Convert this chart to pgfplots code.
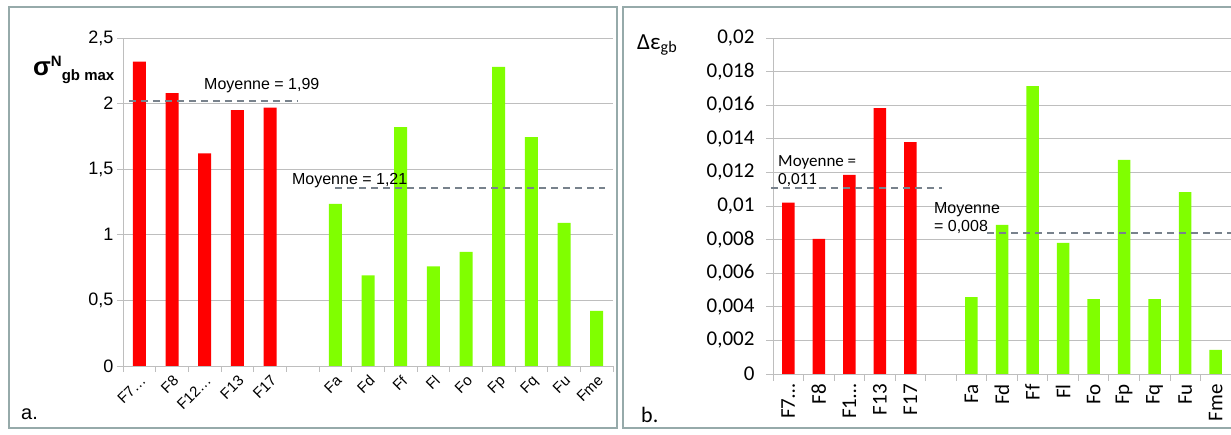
\documentclass[border=0pt]{standalone}
\usepackage{fontspec}
\setmainfont{Liberation Sans}
\newfontfamily\carlito{Carlito}
\usepackage{pgfplots}
\pgfplotsset{compat=1.18}
\definecolor{barred}{RGB}{255,0,0}
\definecolor{bargreen}{RGB}{128,255,0}
\definecolor{gridgray}{RGB}{190,190,190}
\definecolor{framegray}{RGB}{150,170,170}
\definecolor{meangray}{RGB}{120,130,140}
\begin{document}
\begin{tikzpicture}[x=1pt,y=1pt]
\useasboundingbox (0,0) rectangle (1231,435);
\fill[white] (0,0) rectangle (1231,435);
\draw[framegray, line width=1.2pt] (9,7) rectangle (617,428);
\draw[framegray, line width=1.2pt] (623,7) rectangle (1240,428);

% ---------------- left panel ----------------
\begin{axis}[at={(123pt,69pt)}, anchor=south west, scale only axis,
  width=490pt, height=328pt,
  xmin=-0.5, xmax=14.5, ymin=0, ymax=2.5,
  ytick={0,0.5,1,1.5,2,2.5},
  yticklabels={0,{0,5},1,{1,5},2,{2,5}},
  scaled y ticks=false,
  ymajorgrids, grid style={gridgray, line width=0.8pt},
  axis x line*=bottom, axis y line*=left,
  axis line style={gridgray,-, line width=0.8pt},
  tick align=outside, major tick length=6pt, minor tick length=6pt,
  tick style={gridgray, line width=0.8pt},
  xtick={0,...,14},
  xticklabels={F7…,F8,F12…,F13,F17,,Fa,Fd,Ff,Fl,Fo,Fp,Fq,Fu,Fme},
  major x tick style=transparent,
  minor xtick={-0.5,0.5,...,14.5},
  xticklabel style={rotate=45, anchor=north east, font=\fontsize{15}{16}\selectfont, inner sep=1.5pt},
  yticklabel style={font=\fontsize{18}{20}\selectfont},
  clip=false]
\addplot[ybar, bar width=13pt, fill=barred, draw=none] coordinates {(0,2.32) (1,2.08) (2,1.62) (3,1.95) (4,1.97)};
\addplot[ybar, bar width=13pt, fill=bargreen, draw=none] coordinates {(6,1.235) (7,0.69) (8,1.82) (9,0.76) (10,0.87) (11,2.28) (12,1.745) (13,1.09) (14,0.42)};
\addplot[meangray, line width=1.3pt, dash pattern=on 7pt off 5pt] coordinates {(-0.32,2.02) (4.83,2.02)};
\addplot[meangray, line width=1.3pt, dash pattern=on 7pt off 5pt] coordinates {(5.99,1.357) (14.25,1.357)};
\node[anchor=west, font=\fontsize{16}{18}\selectfont, inner sep=0pt] at (axis cs:1.98,2.134) {Moyenne = 1,99};
\node[anchor=west, font=\fontsize{16}{18}\selectfont, inner sep=0pt] at (axis cs:4.67,1.41) {Moyenne = 1,21};
\end{axis}
\node[anchor=west, inner sep=0pt] at (33,365) {{\fontsize{26}{26}\selectfont\bfseries σ}\raisebox{9pt}{\fontsize{15}{15}\selectfont\bfseries N}\raisebox{-5pt}{\fontsize{15}{15}\selectfont\bfseries gb max}};
\node[anchor=west, inner sep=0pt, font=\fontsize{20}{20}\selectfont] at (21,21) {a.};

% ---------------- right panel ----------------
\begin{axis}[at={(773pt,61pt)}, anchor=south west, scale only axis,
  width=458pt, height=336pt,
  xmin=-0.5, xmax=14.5, ymin=0, ymax=0.02,
  ytick={0,0.002,0.004,0.006,0.008,0.01,0.012,0.014,0.016,0.018,0.02},
  yticklabels={0,{0,002},{0,004},{0,006},{0,008},{0,01},{0,012},{0,014},{0,016},{0,018},{0,02}},
  scaled y ticks=false,
  ymajorgrids, grid style={gridgray, line width=0.8pt},
  axis x line*=bottom, axis y line*=left,
  axis line style={gridgray,-, line width=0.8pt},
  tick align=outside, major tick length=7pt, minor tick length=7pt,
  tick style={gridgray, line width=0.8pt},
  xtick={0,...,14},
  xticklabels={F7…,F8,F1…,F13,F17,,Fa,Fd,Ff,Fl,Fo,Fp,Fq,Fu,Fme},
  major x tick style=transparent,
  minor xtick={-0.5,0.5,...,14.5},
  xticklabel style={rotate=90, anchor=east, font=\carlito\fontsize{21}{22}\selectfont, inner sep=3pt},
  yticklabel style={font=\carlito\fontsize{21}{22}\selectfont, xshift=-8pt},
  clip=false]
\addplot[ybar, bar width=12.5pt, fill=barred, draw=none] coordinates {(0,0.0102) (1,0.00804) (2,0.01185) (3,0.01583) (4,0.0138)};
\addplot[ybar, bar width=12.5pt, fill=bargreen, draw=none] coordinates {(6,0.00458) (7,0.00887) (8,0.01714) (9,0.0078) (10,0.00446) (11,0.01274) (12,0.00446) (13,0.01083) (14,0.00143)};
\addplot[meangray, line width=1.3pt, dash pattern=on 7pt off 5pt] coordinates {(-0.566,0.01107) (5.035,0.01107)};
\addplot[meangray, line width=1.3pt, dash pattern=on 7pt off 5pt] coordinates {(6.51,0.0084) (14.5,0.0084)};
\node[anchor=west, font=\carlito\fontsize{17}{18}\selectfont, inner sep=0pt] at (axis cs:-0.336,0.01259) {Moyenne =};
\node[anchor=west, font=\carlito\fontsize{17}{18}\selectfont, inner sep=0pt] at (axis cs:-0.336,0.01155) {0,011};
\node[anchor=west, font=\fontsize{16}{18}\selectfont, inner sep=0pt] at (axis cs:4.77,0.00976) {Moyenne};
\node[anchor=west, font=\fontsize{16}{18}\selectfont, inner sep=0pt] at (axis cs:4.77,0.00875) {= 0,008};
\end{axis}
\node[anchor=west, inner sep=0pt, font=\carlito\fontsize{23}{23}\selectfont] at (637,390) {Δε\textsubscript{gb}};
\node[anchor=west, inner sep=0pt, font=\carlito\fontsize{22}{22}\selectfont] at (641,20) {b.};
\end{tikzpicture}
\end{document}
